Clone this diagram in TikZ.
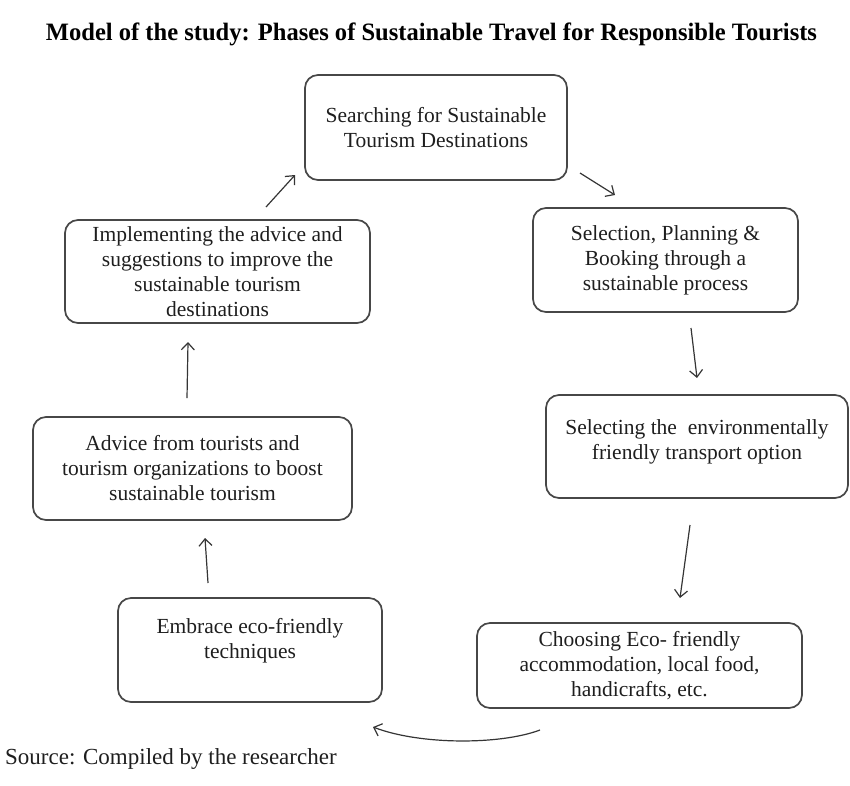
\documentclass[tikz,border=0pt]{standalone}
\usepackage{fontspec}
\setmainfont{Liberation Serif}
\usetikzlibrary{arrows.meta}
\definecolor{ink}{HTML}{1E1E1E}
\definecolor{edge}{HTML}{474747}
\tikzset{
  stagebox/.style={draw=edge, line width=1.7pt, rounded corners=13pt, align=center,
    text=ink, font=\fontsize{21.5}{25}\selectfont, inner sep=4pt},
  flowarrow/.style={draw=ink!90, line width=1.2pt,
    -{Straight Barb[length=7pt,width=13pt,line width=1.2pt]}},
}
\begin{document}
\begin{tikzpicture}[x=1pt,y=-1pt]
\useasboundingbox (0,0) rectangle (850,785);
% title
\node[anchor=base, text=black] (title) at (431.5,40)
  {\resizebox{771pt}{\height}{\fontsize{25}{30}\selectfont\bfseries Model of the study: Phases of Sustainable Travel for Responsible Tourists}};
% boxes
\node[stagebox, minimum width=262pt, minimum height=105pt] (search) at (436,127.5)
  {Searching for Sustainable\\Tourism Destinations};
\node[stagebox, minimum width=265pt, minimum height=104pt] (select) at (665.5,260)
  {Selection, Planning \&\\Booking through a\\sustainable process};
\node[stagebox, minimum width=302pt, minimum height=103pt] (transport) at (697,446.5)
  {Selecting the\ \ environmentally\\friendly transport option\\[-12pt]\mbox{}};
\node[stagebox, minimum width=325pt, minimum height=85pt] (accom) at (639.5,665.5)
  {Choosing Eco- friendly\\accommodation, local food,\\handicrafts, etc.};
\node[stagebox, minimum width=264pt, minimum height=104pt] (embrace) at (250,650)
  {Embrace eco-friendly\\techniques\\[-2pt]\mbox{}};
\node[stagebox, minimum width=319pt, minimum height=103pt] (advice) at (192.5,468.5)
  {Advice from tourists and\\tourism organizations to boost\\sustainable tourism};
\node[stagebox, minimum width=305pt, minimum height=103pt] (implement) at (217.5,271.5)
  {Implementing the advice and\\suggestions to improve the\\sustainable tourism\\destinations};
% arrow end points
\coordinate (a1s) at (266,207); \coordinate (a1e) at (295,175);
\coordinate (a2s) at (580,173); \coordinate (a2e) at (615,195);
\coordinate (a3s) at (691,328); \coordinate (a3e) at (697,378);
\coordinate (a4s) at (690,525); \coordinate (a4e) at (680,598);
\coordinate (a5s) at (540,730); \coordinate (a5e) at (373,727);
\coordinate (a6s) at (208,583); \coordinate (a6e) at (205,538);
\coordinate (a7s) at (187,398); \coordinate (a7e) at (188,342);
\draw[flowarrow] (a1s) -- (a1e);
\draw[flowarrow] (a2s) -- (a2e);
\draw[flowarrow] (a3s) -- (a3e);
\draw[flowarrow] (a4s) -- (a4e);
\draw[flowarrow] (a5s) .. controls (500,745) and (420,745) .. (a5e);
\draw[flowarrow] (a6s) -- (a6e);
\draw[flowarrow] (a7s) -- (a7e);
% source
\node[anchor=base west, text=ink, font=\fontsize{23}{27}\selectfont, inner sep=0pt] (source) at (5,764)
  {Source: Compiled by the researcher};
\end{tikzpicture}
\end{document}
